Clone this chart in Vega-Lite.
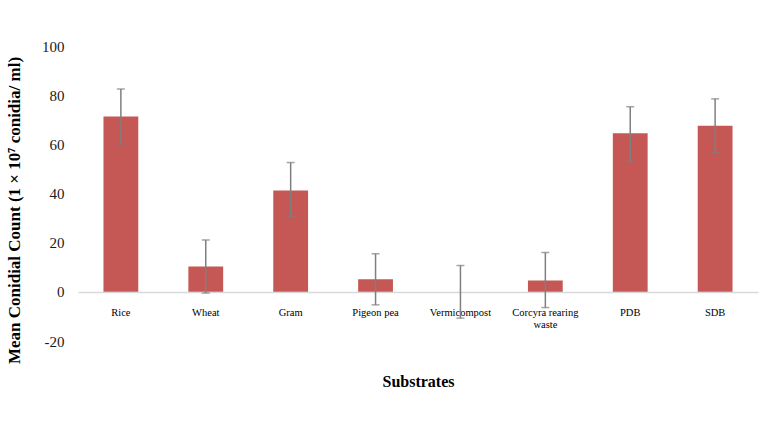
{
  "$schema": "https://vega.github.io/schema/vega-lite/v6.json",
  "width": 680,
  "height": 295,
  "autosize": {"type": "none"},
  "padding": {"left": 78, "top": 46, "right": 17, "bottom": 84},
  "background": "white",
  "config": {"view": {"stroke": null}, "font": "Liberation Serif"},
  "data": {
    "values": [
      {"substrate": "Rice", "mean": 71.3, "lower": 60.2, "upper": 82.5},
      {"substrate": "Wheat", "mean": 10.3, "lower": -0.5, "upper": 21.1},
      {"substrate": "Gram", "mean": 41.2, "lower": 30.6, "upper": 52.6},
      {"substrate": "Pigeon pea", "mean": 5.1, "lower": -5.3, "upper": 15.5},
      {"substrate": "Vermicompost", "mean": 0, "lower": -10.7, "upper": 10.7},
      {"substrate": "Corcyra rearing waste", "mean": 4.6, "lower": -6.4, "upper": 16},
      {"substrate": "PDB", "mean": 64.5, "lower": 53, "upper": 75.3},
      {"substrate": "SDB", "mean": 67.6, "lower": 56.6, "upper": 78.5}
    ]
  },
  "encoding": {
    "x": {
      "field": "substrate",
      "type": "nominal",
      "sort": null,
      "scale": {"paddingInner": 0.59, "paddingOuter": 0.3},
      "axis": {
        "title": "Substrates",
        "titleFont": "Liberation Serif",
        "titleFontSize": 16,
        "titleFontWeight": "bold",
        "titleColor": "#000000",
        "titlePadding": 43,
        "labelAngle": 0,
        "labelFont": "Liberation Serif",
        "labelFontSize": 10.5,
        "labelColor": "#000000",
        "labelPadding": 15,
        "labelExpr": "datum.label == 'Corcyra rearing waste' ? ['Corcyra rearing', 'waste'] : datum.label",
        "offset": -49,
        "domain": true,
        "domainColor": "#d9d9d9",
        "domainWidth": 1.5,
        "ticks": false,
        "grid": false
      }
    }
  },
  "layer": [
    {
      "mark": {"type": "bar", "color": "#c55855"},
      "encoding": {
        "y": {
          "field": "mean",
          "type": "quantitative",
          "scale": {"domain": [-20, 100], "nice": false},
          "axis": {
            "title": "Mean Conidial Count (1 × 10⁷ conidia/ ml)",
            "titleFont": "Liberation Serif",
            "titleFontSize": 17,
            "titleFontWeight": "bold",
            "titleColor": "#000000",
            "titlePadding": 18,
            "titleY": 164,
            "values": [-20, 0, 20, 40, 60, 80, 100],
            "labelExpr": "toString(datum.value)",
            "labelFont": "Liberation Serif",
            "labelFontSize": 15,
            "labelColor": "#1a1a1a",
            "labelPadding": 14,
            "domain": false,
            "ticks": false,
            "grid": false
          }
        }
      }
    },
    {
      "mark": {"type": "rule", "color": "#7f7f7f", "strokeWidth": 1.5},
      "encoding": {
        "y": {"field": "lower", "type": "quantitative"},
        "y2": {"field": "upper"}
      }
    },
    {
      "mark": {"type": "tick", "color": "#7f7f7f", "size": 8, "thickness": 1.5, "orient": "horizontal"},
      "encoding": {"y": {"field": "upper", "type": "quantitative"}}
    },
    {
      "mark": {"type": "tick", "color": "#7f7f7f", "size": 8, "thickness": 1.5, "orient": "horizontal"},
      "encoding": {"y": {"field": "lower", "type": "quantitative"}}
    }
  ]
}
